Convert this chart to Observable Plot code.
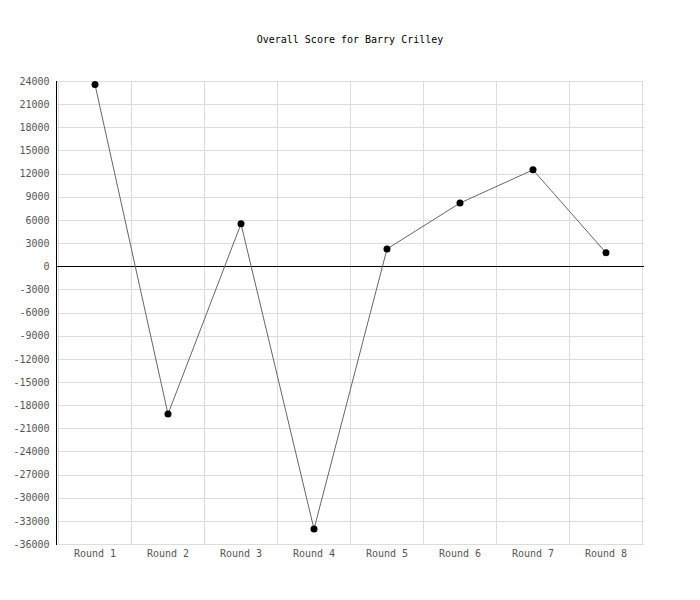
<!DOCTYPE html>
<html>
<head>
<meta charset="utf-8">
<script src="https://cdn.jsdelivr.net/npm/d3@7"></script>
<script src="https://cdn.jsdelivr.net/npm/@observablehq/plot@0.6"></script>
<style>
  body { margin: 0; background: #fff; }
  #wrap { position: relative; width: 700px; height: 600px; }
  #title { position: absolute; top: 34px; left: 0; width: 700px; text-align: center;
           font: 10px "DejaVu Sans Mono", monospace; color: #000; }
</style>
</head>
<body>
<div id="wrap"><div id="title">Overall Score for Barry Crilley</div></div>
<script>
const rounds = ["Round 1", "Round 2", "Round 3", "Round 4", "Round 5", "Round 6", "Round 7", "Round 8"];
const scores = [23600, -19100, 5550, -34000, 2300, 8250, 12550, 1800];
const yTicks = d3.range(-36000, 24001, 3000);

const data = rounds.map((r, i) => ({round: r, score: scores[i]}));

const chart = Plot.plot({
  width: 700,
  height: 600,
  marginTop: 81,
  marginBottom: 56,
  marginLeft: 56,
  marginRight: 56,
  style: {fontFamily: "'DejaVu Sans Mono', monospace", fontSize: "10px", background: "#fff"},
  x: {type: "band", domain: rounds, padding: 0, label: null},
  y: {domain: [-36000, 24000], label: null},
  marks: [
    Plot.gridY(yTicks, {stroke: "#dcdcdc", strokeOpacity: 1, shapeRendering: "crispEdges"}),
    Plot.cell(rounds, {x: d => d, fill: "none", stroke: "#dcdcdc", inset: 0, shapeRendering: "crispEdges"}),
    Plot.ruleY([0], {stroke: "#000", shapeRendering: "crispEdges"}),
    Plot.frame({anchor: "left", stroke: "#000", shapeRendering: "crispEdges"}),
    Plot.axisY(yTicks, {tickSize: 0, tickPadding: 7, fill: "#555", tickFormat: d => String(d), label: null}),
    Plot.axisX({tickSize: 0, tickPadding: 5, fill: "#555", label: null}),
    Plot.line(data, {x: "round", y: "score", stroke: "#666", strokeWidth: 1}),
    Plot.dot(data, {x: "round", y: "score", r: 3.5, fill: "#000"})
  ]
});
document.getElementById("wrap").prepend(chart);
</script>
</body>
</html>
